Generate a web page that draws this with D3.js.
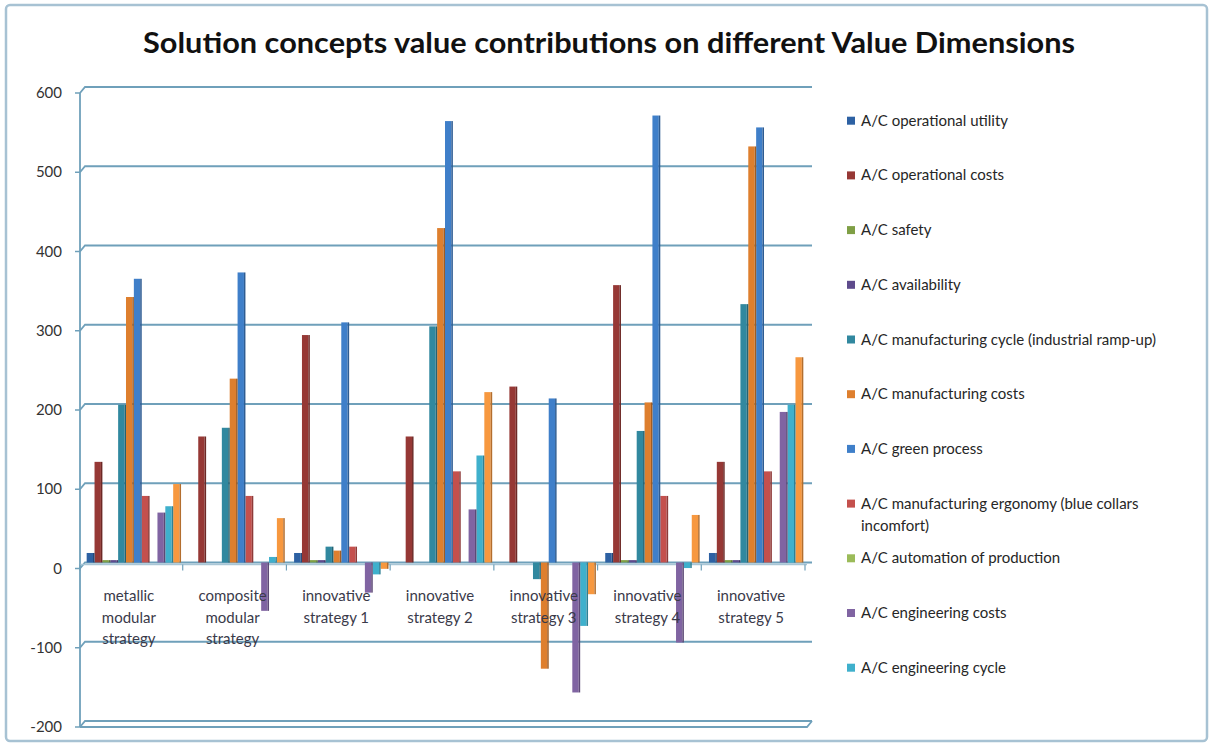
<!DOCTYPE html>
<html lang="en">
<head>
    <meta charset="UTF-8">
    <title>Solution concepts value contributions</title>
    <script src="https://d3js.org/d3.v7.min.js"></script>
    <style>
        body { margin: 0; background: #fff; font-family: Lato, "Open Sans", sans-serif; }
        .tick-label { font-size: 15px; fill: #333; }
        .cat-label { font-size: 15px; fill: #3a3a4a; }
        .legend-label { font-size: 15px; fill: #262626; }
        .title { font-size: 28px; font-weight: bold; fill: #111; }
    </style>
</head>
<body>
    <svg width="1212" height="747"></svg>
    <script>
        // categories (x axis)
        const categories = [
            "metallic modular strategy",
            "composite modular strategy",
            "innovative strategy 1",
            "innovative strategy 2",
            "innovative strategy 3",
            "innovative strategy 4",
            "innovative strategy 5"
        ];

        // series names (the last series has no visible legend entry)
        const seriesNames = [
            "A/C operational utility",
            "A/C operational costs",
            "A/C safety",
            "A/C availability",
            "A/C manufacturing cycle (industrial ramp-up)",
            "A/C manufacturing costs",
            "A/C green process",
            "A/C manufacturing ergonomy (blue collars incomfort)",
            "A/C automation of production",
            "A/C engineering costs",
            "A/C engineering cycle",
            "A/C series 12"
        ];
        const legendCount = 11;

        const seriesColors = [
            "#2d61a3", "#963835", "#7f9f45", "#5e4b8c", "#31889f", "#de7f2e",
            "#3f7fc9", "#c4504d", "#9bbb59", "#8064a2", "#3fb0cc", "#f7983f"
        ];

        // values per series, one number per category
        const opUtility    = [12, 0, 12, 0, 0, 12, 12];
        const opCosts      = [127, 159, 287, 159, 222, 350, 127];
        const safety       = [3, 0, 3, 0, 0, 3, 3];
        const availability = [3, 0, 3, 0, 0, 3, 3];
        const mfgCycle     = [199, 170, 20, 298, -21, 166, 326];
        const mfgCosts     = [335, 232, 15, 422, -134, 202, 525];
        const greenProcess = [358, 366, 303, 557, 207, 564, 549];
        const ergonomy     = [84, 84, 20, 115, 0, 84, 115];
        const automation   = [0, 0, 0, 0, 0, 0, 0];
        const engCosts     = [63, -61, -38, 67, -164, -101, 190];
        const engCycle     = [71, 7, -15, 135, -80, -7, 199];
        const series12     = [99, 56, -8, 215, -40, 60, 259];

        const seriesValues = [opUtility, opCosts, safety, availability, mfgCycle, mfgCosts,
                              greenProcess, ergonomy, automation, engCosts, engCycle, series12];

        const yTicks = [-200, -100, 0, 100, 200, 300, 400, 500, 600];

        const svg = d3.select("svg");

        // outer chart border
        svg.append("rect")
           .attr("x", 6).attr("y", 5)
           .attr("width", 1201).attr("height", 736)
           .attr("rx", 4)
           .attr("fill", "#fff")
           .attr("stroke", "#a7c2d3")
           .attr("stroke-width", 2.5);

        // title
        svg.append("text")
           .attr("class", "title")
           .attr("x", 609)
           .attr("y", 53)
           .attr("text-anchor", "middle")
           .attr("textLength", 932)
           .attr("lengthAdjust", "spacingAndGlyphs")
           .text("Solution concepts value contributions on different Value Dimensions");

        // scales (back wall), front edge is shifted by depth offsets
        const y = d3.scaleLinear().domain([-200, 600]).range([721, 87]);
        const depthX = 5, depthY = 6;
        const leftX = 80, rightX = 812;

        const x0 = d3.scaleBand()
                     .domain(categories)
                     .range([82, 808])
                     .paddingInner(0.09)
                     .paddingOuter(0.045);

        const x1 = d3.scaleBand()
                     .domain(d3.range(seriesNames.length))
                     .range([0, x0.bandwidth()]);

        const gridColor = "#6fa0ba";

        // gridlines with the slanted side wall joint
        svg.append("g")
           .selectAll("path")
           .data(yTicks)
           .join("path")
           .attr("d", t => `M${leftX},${y(t) + depthY}L${leftX + depthX},${y(t)}H${rightX}`)
           .attr("fill", "none")
           .attr("stroke", gridColor)
           .attr("stroke-width", 1.8);

        // floor front edge
        const yFloor = y(-200);
        svg.append("path")
           .attr("d", `M${leftX},${yFloor + depthY}H${rightX - depthX}L${rightX},${yFloor}`)
           .attr("fill", "none")
           .attr("stroke", gridColor)
           .attr("stroke-width", 1.8);

        // vertical axis line + ticks
        svg.append("line")
           .attr("x1", leftX).attr("x2", leftX)
           .attr("y1", y(600) + depthY).attr("y2", y(-200) + depthY)
           .attr("stroke", gridColor)
           .attr("stroke-width", 1.8);

        svg.append("g")
           .selectAll("line")
           .data(yTicks)
           .join("line")
           .attr("x1", leftX - 5).attr("x2", leftX)
           .attr("y1", t => y(t) + depthY).attr("y2", t => y(t) + depthY)
           .attr("stroke", gridColor)
           .attr("stroke-width", 1.5);

        svg.append("g")
           .selectAll("text")
           .data(yTicks)
           .join("text")
           .attr("class", "tick-label")
           .attr("x", 62)
           .attr("y", t => y(t) + depthY + 5)
           .attr("text-anchor", "end")
           .text(t => t);

        // category axis (front edge of the zero plane)
        const yZero = y(0) + 2;
        svg.append("line")
           .attr("x1", leftX).attr("x2", rightX - depthX)
           .attr("y1", yZero).attr("y2", yZero)
           .attr("stroke", "#a9c6d6")
           .attr("stroke-width", 1.5);

        const step = x0.step();
        const boundaries = categories.map(c => x0(c) + x0.bandwidth() + (step - x0.bandwidth()) / 2 - 3);
        svg.append("g")
           .selectAll("line")
           .data([leftX].concat(boundaries))
           .join("line")
           .attr("x1", d => d).attr("x2", d => d)
           .attr("y1", yZero).attr("y2", yZero + 6)
           .attr("stroke", gridColor)
           .attr("stroke-width", 1.2);

        // bars
        const bars = [];
        seriesValues.forEach((vals, s) => {
            vals.forEach((v, c) => bars.push({ s: s, cat: categories[c], v: v }));
        });

        const barG = svg.append("g");
        const bw = x1.bandwidth();

        barG.selectAll("rect.front")
            .data(bars)
            .join("rect")
            .attr("class", "front")
            .attr("x", d => x0(d.cat) + x1(d.s))
            .attr("y", d => Math.min(y(d.v), y(0)))
            .attr("width", bw - 1.5)
            .attr("height", d => Math.abs(y(d.v) - y(0)))
            .attr("fill", d => seriesColors[d.s]);

        barG.selectAll("rect.side")
            .data(bars)
            .join("rect")
            .attr("class", "side")
            .attr("x", d => x0(d.cat) + x1(d.s) + bw - 1.5)
            .attr("y", d => Math.min(y(d.v), y(0)))
            .attr("width", 1.5)
            .attr("height", d => Math.abs(y(d.v) - y(0)))
            .attr("fill", d => d3.color(seriesColors[d.s]).darker(0.9));

        // category labels, wrapped
        function wrap(textSel, maxWidth, lineHeight) {
            textSel.each(function () {
                const text = d3.select(this);
                const words = text.text().split(" ");
                const x = text.attr("x");
                text.text(null);
                let line = [];
                let tspan = text.append("tspan").attr("x", x).attr("dy", 0);
                words.forEach(w => {
                    line.push(w);
                    tspan.text(line.join(" "));
                    if (tspan.node().getComputedTextLength() > maxWidth && line.length > 1) {
                        line.pop();
                        tspan.text(line.join(" "));
                        line = [w];
                        tspan = text.append("tspan").attr("x", x).attr("dy", lineHeight).text(w);
                    }
                });
            });
        }

        svg.append("g")
           .selectAll("text")
           .data(categories)
           .join("text")
           .attr("class", "cat-label")
           .attr("x", d => x0(d) + x0.bandwidth() / 2 - 5)
           .attr("y", 601)
           .attr("text-anchor", "middle")
           .text(d => d)
           .call(wrap, 78, 21.5);

        // legend
        const legend = svg.append("g")
                          .selectAll("g")
                          .data(seriesNames.slice(0, legendCount))
                          .join("g")
                          .attr("transform", (d, i) => `translate(847,${120.7 + 54.7 * i})`);

        legend.append("rect")
              .attr("x", 0).attr("y", -4)
              .attr("width", 8).attr("height", 8)
              .attr("fill", (d, i) => seriesColors[i]);

        legend.append("text")
              .attr("class", "legend-label")
              .attr("x", 14)
              .attr("y", 5)
              .text(d => d)
              .call(wrap, 340, 22);
    </script>
</body>
</html>
